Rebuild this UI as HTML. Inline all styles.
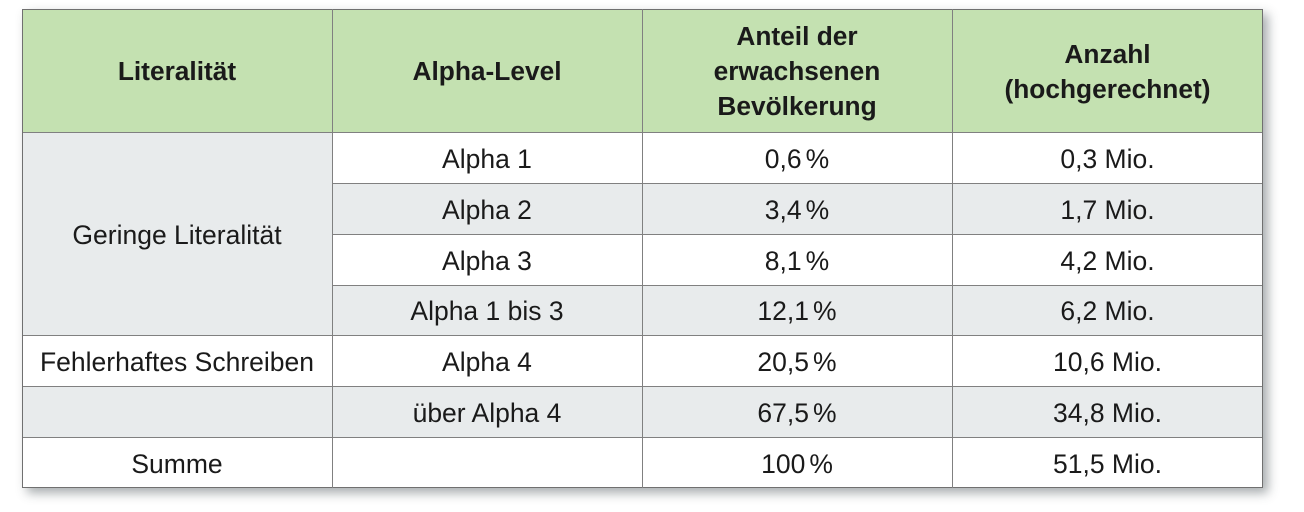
<!DOCTYPE html>
<html><head><meta charset="utf-8"><style>
html,body{margin:0;padding:0;background:#fff;width:1304px;height:512px;overflow:hidden;}
#t{position:absolute;left:22px;top:9px;width:1241px;height:479px;box-shadow:5px 5px 10px rgba(60,70,75,0.45);background:#fff;}
.c{position:absolute;display:flex;align-items:center;justify-content:center;text-align:center;font-family:"Liberation Sans",Arial,sans-serif;font-size:26.5px;color:#1a1a1a;box-sizing:border-box;padding-top:3px;}
.h{background:#c4e1b1;font-weight:bold;font-size:26.3px;line-height:35px;padding-top:2px;}
.g{background:#e8ebec;}
.w{background:#fff;}
.l{position:absolute;background:#808080;}
.p{margin-left:4px;}
</style></head><body>
<div id="t">
<!-- header -->
<div class="c h" style="left:0;top:0;width:310px;height:123px;">Literalität</div>
<div class="c h" style="left:310px;top:0;width:310px;height:123px;">Alpha-Level</div>
<div class="c h" style="left:620px;top:0;width:310px;height:123px;">Anteil der<br>erwachsenen<br>Bevölkerung</div>
<div class="c h" style="left:930px;top:0;width:311px;height:123px;">Anzahl<br>(hochgerechnet)</div>

<!-- col 1 -->
<div class="c g" style="left:0;top:123px;width:310px;height:203px;">Geringe Literalität</div>
<div class="c w" style="left:0;top:326px;width:310px;height:51px;">Fehlerhaftes Schreiben</div>
<div class="c g" style="left:0;top:377px;width:310px;height:51px;"></div>
<div class="c w" style="left:0;top:428px;width:310px;height:51px;">Summe</div>

<!-- col 2 -->
<div class="c w" style="left:310px;top:123px;width:310px;height:51px;">Alpha 1</div>
<div class="c g" style="left:310px;top:174px;width:310px;height:51px;">Alpha 2</div>
<div class="c w" style="left:310px;top:225px;width:310px;height:51px;">Alpha 3</div>
<div class="c g" style="left:310px;top:276px;width:310px;height:50px;">Alpha 1 bis 3</div>
<div class="c w" style="left:310px;top:326px;width:310px;height:51px;">Alpha 4</div>
<div class="c g" style="left:310px;top:377px;width:310px;height:51px;">über Alpha 4</div>
<div class="c w" style="left:310px;top:428px;width:310px;height:51px;"></div>

<!-- col 3 -->
<div class="c w" style="left:620px;top:123px;width:310px;height:51px;">0,6<span class="p">%</span></div>
<div class="c g" style="left:620px;top:174px;width:310px;height:51px;">3,4<span class="p">%</span></div>
<div class="c w" style="left:620px;top:225px;width:310px;height:51px;">8,1<span class="p">%</span></div>
<div class="c g" style="left:620px;top:276px;width:310px;height:50px;">12,1<span class="p">%</span></div>
<div class="c w" style="left:620px;top:326px;width:310px;height:51px;">20,5<span class="p">%</span></div>
<div class="c g" style="left:620px;top:377px;width:310px;height:51px;">67,5<span class="p">%</span></div>
<div class="c w" style="left:620px;top:428px;width:310px;height:51px;">100<span class="p">%</span></div>

<!-- col 4 -->
<div class="c w" style="left:930px;top:123px;width:311px;height:51px;">0,3 Mio.</div>
<div class="c g" style="left:930px;top:174px;width:311px;height:51px;">1,7 Mio.</div>
<div class="c w" style="left:930px;top:225px;width:311px;height:51px;">4,2 Mio.</div>
<div class="c g" style="left:930px;top:276px;width:311px;height:50px;">6,2 Mio.</div>
<div class="c w" style="left:930px;top:326px;width:311px;height:51px;">10,6 Mio.</div>
<div class="c g" style="left:930px;top:377px;width:311px;height:51px;">34,8 Mio.</div>
<div class="c w" style="left:930px;top:428px;width:311px;height:51px;">51,5 Mio.</div>

<!-- horizontal lines -->
<div class="l" style="left:0;top:0;width:1241px;height:1px;background:#707070;"></div>
<div class="l" style="left:0;top:123px;width:1241px;height:1px;"></div>
<div class="l" style="left:310px;top:174px;width:931px;height:1px;"></div>
<div class="l" style="left:310px;top:225px;width:931px;height:1px;"></div>
<div class="l" style="left:310px;top:276px;width:931px;height:1px;"></div>
<div class="l" style="left:0;top:326px;width:1241px;height:1px;"></div>
<div class="l" style="left:0;top:377px;width:1241px;height:1px;"></div>
<div class="l" style="left:0;top:428px;width:1241px;height:1px;"></div>
<div class="l" style="left:0;top:478px;width:1241px;height:1px;background:#707070;"></div>
<!-- vertical lines -->
<div class="l" style="left:0;top:0;width:1px;height:479px;background:#707070;"></div>
<div class="l" style="left:310px;top:0;width:1px;height:479px;"></div>
<div class="l" style="left:620px;top:0;width:1px;height:479px;"></div>
<div class="l" style="left:930px;top:0;width:1px;height:479px;"></div>
<div class="l" style="left:1240px;top:0;width:1px;height:479px;background:#707070;"></div>
</div>
</body></html>
